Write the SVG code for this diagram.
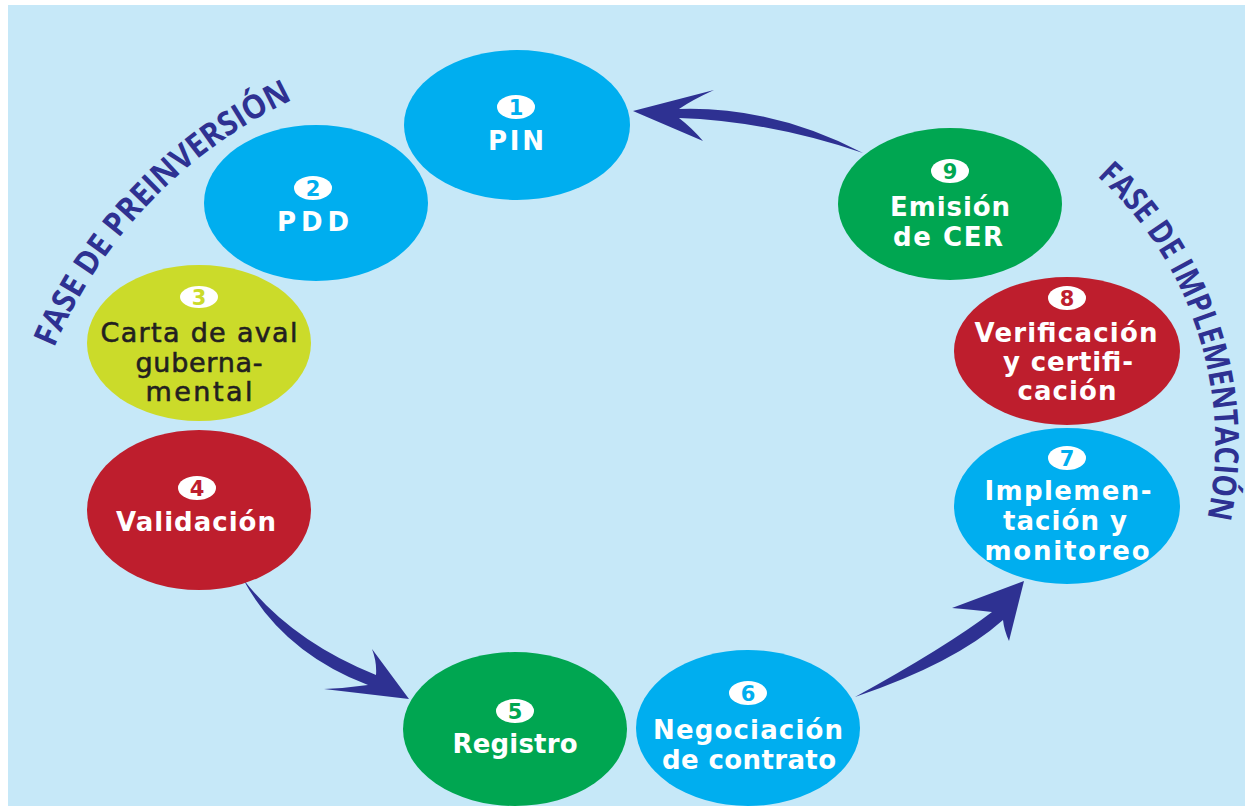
<svg xmlns="http://www.w3.org/2000/svg" width="1245" height="806" viewBox="0 0 1245 806">
<style>
.bg{fill:#C6E8F8}
.blue{fill:#00AEEF}
.green{fill:#00A651}
.lime{fill:#CBDB2A}
.red{fill:#BE1E2D}
.badge{fill:#FFFFFF}
.num{font-family:"DejaVu Sans",sans-serif;font-weight:bold;font-size:21px;text-anchor:middle}
.lbl{font-family:"DejaVu Sans",sans-serif;font-weight:bold;font-size:26px;fill:#FFFFFF;text-anchor:middle}
.lbl-dark{font-family:"DejaVu Sans",sans-serif;font-size:27px;fill:#231F20;stroke:#231F20;stroke-width:0.6;text-anchor:middle}
.phase{font-family:"Open Sans","DejaVu Sans",sans-serif;font-weight:bold;font-size:33px;fill:#2E3192}
.arrow{fill:#2E3192}
</style>
<defs>
<path id="arcLeft" d="M 54 348 A 486 486 0 0 1 294 99"/>
<path id="arcRight" d="M 1097 176 A 362 362 0 0 1 1207 520"/>
</defs>
<rect x="0" y="0" width="1245" height="806" fill="#FFFFFF"/>
<rect class="bg" x="8" y="5" width="1237" height="801"/>

<g id="phase-preinversion">
<text class="phase"><textPath href="#arcLeft" textLength="352" lengthAdjust="spacingAndGlyphs">FASE DE PREINVERSIÓN</textPath></text>
</g>
<g id="phase-implementacion">
<text class="phase"><textPath href="#arcRight" textLength="376" lengthAdjust="spacingAndGlyphs">FASE DE IMPLEMENTACIÓN</textPath></text>
</g>

<g id="connectors">
<path class="arrow" d="M 633 111 L 714 90 Q 692 100 679 109 Q 772 106 863 153 Q 768 121 679 118 Q 692 128 703 141 Z"/>
<path class="arrow" d="M 409 699 L 372 649 Q 377 662 376 675 Q 291 641 243 579 Q 282 652 368 685 Q 347 688 324 689 Z"/>
<path class="arrow" d="M 1024 581 L 952 608 Q 975 610 992 612 Q 946 647 855 697 Q 955 663 1003 620 Q 1004 630 1009 641 Z"/>
</g>

<g id="node1">
<ellipse class="blue" cx="517" cy="125" rx="113" ry="75"/>
<ellipse class="badge" cx="516" cy="107" rx="19" ry="12"/>
<text class="num" x="516" y="115" fill="#00AEEF">1</text>
<text class="lbl" x="516" y="150" textLength="56">PIN</text>
</g>

<g id="node2">
<ellipse class="blue" cx="316" cy="203" rx="112" ry="78"/>
<ellipse class="badge" cx="313" cy="188" rx="19" ry="12"/>
<text class="num" x="313" y="196" fill="#00AEEF">2</text>
<text class="lbl" x="313" y="231" textLength="72">PDD</text>
</g>

<g id="node3">
<ellipse class="lime" cx="199" cy="343" rx="112" ry="78"/>
<ellipse class="badge" cx="199" cy="297" rx="19" ry="11"/>
<text class="num" x="199" y="305" fill="#CBDB2A">3</text>
<text class="lbl-dark" x="199" y="342" textLength="197">Carta de aval</text>
<text class="lbl-dark" x="199" y="372" textLength="127">guberna-</text>
<text class="lbl-dark" x="199" y="401" textLength="107">mental</text>
</g>

<g id="node4">
<ellipse class="red" cx="199" cy="510" rx="112" ry="80"/>
<ellipse class="badge" cx="197" cy="488" rx="19" ry="12"/>
<text class="num" x="197" y="496" fill="#BE1E2D">4</text>
<text class="lbl" x="196" y="531" textLength="160">Validación</text>
</g>

<g id="node5">
<ellipse class="green" cx="515" cy="729" rx="112" ry="77"/>
<ellipse class="badge" cx="515" cy="711" rx="19" ry="12"/>
<text class="num" x="515" y="719" fill="#00A651">5</text>
<text class="lbl" x="515" y="753" textLength="125">Registro</text>
</g>

<g id="node6">
<ellipse class="blue" cx="748" cy="728" rx="112" ry="78"/>
<ellipse class="badge" cx="748" cy="693" rx="19" ry="12"/>
<text class="num" x="748" y="701" fill="#00AEEF">6</text>
<text class="lbl" x="748" y="739" textLength="190">Negociación</text>
<text class="lbl" x="749" y="769" textLength="174">de contrato</text>
</g>

<g id="node7">
<ellipse class="blue" cx="1067" cy="506" rx="113" ry="78"/>
<ellipse class="badge" cx="1067" cy="458" rx="19" ry="12"/>
<text class="num" x="1067" y="466" fill="#00AEEF">7</text>
<text class="lbl" x="1068" y="500" textLength="167">Implemen-</text>
<text class="lbl" x="1065" y="530" textLength="124">tación y</text>
<text class="lbl" x="1067" y="560" textLength="165">monitoreo</text>
</g>

<g id="node8">
<ellipse class="red" cx="1067" cy="351" rx="113" ry="74"/>
<ellipse class="badge" cx="1067" cy="298" rx="19" ry="12"/>
<text class="num" x="1067" y="306" fill="#BE1E2D">8</text>
<text class="lbl" x="1066" y="342" textLength="183">Verificación</text>
<text class="lbl" x="1068" y="371" textLength="130">y certifi-</text>
<text class="lbl" x="1067" y="400" textLength="99">cación</text>
</g>

<g id="node9">
<ellipse class="green" cx="950" cy="204" rx="112" ry="76"/>
<ellipse class="badge" cx="950" cy="171" rx="19" ry="12"/>
<text class="num" x="950" y="179" fill="#00A651">9</text>
<text class="lbl" x="950" y="216" textLength="120">Emisión</text>
<text class="lbl" x="948" y="246" textLength="110">de CER</text>
</g>
</svg>
